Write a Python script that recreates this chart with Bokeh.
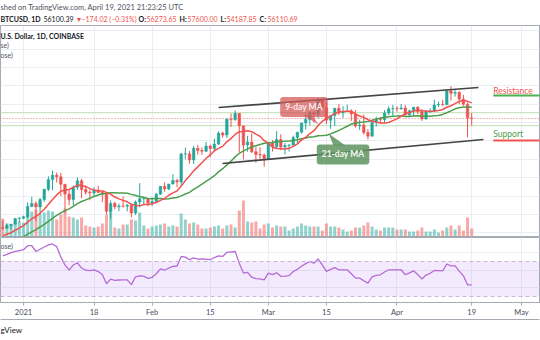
import pandas as pd
from bokeh.plotting import figure
from bokeh.layouts import column
from bokeh.models import ColumnDataSource, Range1d, FixedTicker, Label, Span, BoxAnnotation, DatetimeAxis
from bokeh.embed import file_html
from bokeh.resources import INLINE

# ---------------- data (BTCUSD daily) ----------------
first_day = "2020-12-27"
opens = [26437, 26261, 27030, 27360, 28880, 28990, 29410, 32200, 33000, 32030,
         34050, 36860, 39490, 40670, 40240, 38240, 35550, 34050, 37400, 39150,
         36800, 36050, 35830, 36630, 36000, 35500, 30850, 33000, 32100, 32300,
         32260, 32500, 30400, 33400, 34300, 34320, 33100, 33540, 35500, 37650,
         36950, 38300, 39250, 38850, 46450, 46500, 44850, 48000, 47400, 47200,
         48600, 47950, 49150, 52150, 51600, 55900, 55800, 57500, 54100, 48900,
         49700, 47050, 46300, 46150, 45200, 49600, 48400, 50400, 48350, 48750,
         48850, 50950, 52400, 54900, 55850, 57800, 57250, 61200, 59000, 55650,
         56900, 58900, 57650, 58050, 58100, 57350, 54100, 54350, 52300, 51300,
         55050, 55850, 55800, 57600, 58750, 58800, 58750, 59000, 57100, 58200,
         59150, 57950, 56000, 58100, 58150, 59800, 59900, 59850, 63600, 62950,
         63200, 61400, 60000, 56273.65]
highs = [28400, 27500, 27380, 28990, 29300, 29680, 33300, 34800, 33600, 34500,
         36950, 40370, 41950, 41400, 41350, 38260, 36600, 37850, 40100, 39700,
         37900, 36800, 37400, 37850, 36400, 35600, 33800, 33450, 32950, 34880,
         32900, 32560, 33800, 38500, 34900, 34330, 34700, 35900, 37700, 38700,
         38300, 40950, 39700, 46800, 48200, 47300, 48700, 48950, 48200, 49700,
         49000, 50600, 52600, 52550, 56200, 57500, 58350, 57550, 54200, 51400,
         52050, 48400, 48300, 46600, 49800, 50200, 52650, 51800, 49450, 49200,
         51450, 52400, 54900, 57400, 58100, 58000, 61800, 61700, 60600, 56900,
         58950, 60100, 59450, 59900, 58600, 58400, 55800, 57200, 53200, 55100,
         56600, 56550, 58400, 59400, 59800, 59500, 60050, 59800, 58500, 59300,
         59500, 58650, 58200, 58900, 61250, 60700, 61200, 63800, 64900, 63800,
         63550, 62550, 60450, 57600.00]
lows = [25850, 26100, 25880, 27320, 27850, 28700, 29030, 32000, 28130, 29900,
        33430, 36370, 36600, 38700, 35000, 30400, 32500, 32400, 36700, 34400,
        35400, 33850, 34800, 35900, 33400, 30070, 28850, 31400, 30900, 31900,
        30850, 29240, 29900, 31950, 32850, 32300, 32300, 33450, 35400, 36200,
        36600, 38200, 37400, 37980, 45000, 43800, 43750, 46300, 46200, 47000,
        45600, 47050, 48900, 50900, 50800, 53800, 55500, 46900, 45000, 47100,
        46700, 44100, 45100, 43000, 45000, 47100, 48100, 47500, 46300, 47100,
        48850, 49300, 52000, 53100, 54300, 55000, 56100, 58950, 54600, 53300,
        54100, 57000, 56300, 57850, 55450, 53650, 53000, 51700, 50400, 51300,
        53950, 54700, 54900, 57050, 56850, 57950, 58500, 56950, 56500, 56800,
        57350, 55450, 55750, 57650, 57900, 59250, 59550, 59850, 61000, 62050,
        60000, 59600, 51000, 54187.85]
closes = [26261, 27030, 27360, 28880, 28990, 29410, 32200, 33000, 32030, 34050,
          36860, 39490, 40670, 40240, 38240, 35550, 34050, 37400, 39150, 36800,
          36050, 35830, 36630, 36000, 35500, 30850, 33000, 32100, 32300, 32260,
          32500, 30400, 33400, 34300, 34320, 33100, 33540, 35500, 37650, 36950,
          38300, 39250, 38850, 46450, 46500, 44850, 48000, 47400, 47200, 48600,
          47950, 49150, 52150, 51600, 55900, 55800, 57500, 54100, 48900, 49700,
          47050, 46300, 46150, 45200, 49600, 48400, 50400, 48350, 48750, 48850,
          50950, 52400, 54900, 55850, 57800, 57250, 61200, 59000, 55650, 56900,
          58900, 57650, 58050, 58100, 57350, 54100, 54350, 52300, 51300, 55050,
          55850, 55800, 57600, 58750, 58800, 58750, 59000, 57100, 58200, 59150,
          57950, 56000, 58100, 58150, 59800, 59900, 59850, 63600, 62950, 63200,
          61400, 60000, 56300, 56110.69]
# closes of the 20 sessions before the first visible candle (feed the moving averages)
warmup_closes = [19200, 18320, 18550, 18250, 18040, 18800, 19170, 19270, 19440, 21350,
                 22800, 23140, 23850, 23480, 22750, 23820, 23250, 23720, 24710, 26440]
volumes_k = [36, 26, 24, 28, 30, 28, 44, 50, 54, 44,
             48, 52, 50, 34, 44, 56, 40, 38, 34, 38,
             22, 20, 18, 20, 26, 44, 52, 18, 16, 24,
             24, 34, 32, 48, 22, 16, 20, 22, 24, 26,
             20, 22, 20, 46, 34, 26, 28, 24, 16, 16,
             18, 20, 22, 16, 22, 24, 18, 52, 72, 30,
             28, 30, 16, 24, 26, 18, 22, 20, 20, 12,
             16, 20, 26, 22, 20, 20, 20, 12, 26, 20,
             20, 18, 14, 10, 12, 18, 18, 22, 28, 20,
             14, 12, 18, 18, 18, 14, 14, 14, 10, 10,
             12, 18, 10, 10, 14, 8, 12, 18, 22, 14,
             22, 12, 38, 16]
rsi_values = [76.5, 78, 80, 81.5, 82.5, 83.5, 88, 88, 81.4, 84,
              86.5, 89, 90, 87, 75, 66, 60, 66, 68.5, 62.5,
              60, 59.5, 60.5, 58.5, 55, 44.5, 49.8, 48.5, 48.8, 49,
              49, 43.5, 52.5, 53.5, 53.3, 50.6, 51.9, 56, 61.6, 60,
              62.5, 64.5, 64.8, 75.7, 75, 72, 74, 72.6, 72.8, 72.6,
              72, 74.5, 76.5, 75.7, 80.5, 81, 81.4, 68, 56.7, 57.5,
              52, 50.5, 50, 49, 56.7, 55, 57, 53, 53.3, 53.8,
              58.5, 61, 64.5, 67.5, 70, 68, 73, 66, 58.6, 61,
              63, 60.5, 60.5, 60.5, 56, 51, 51, 48, 45.2, 52.5,
              54, 54.8, 58, 60.5, 60.5, 60.5, 60.5, 54.8, 57, 59.3,
              55, 50, 54.5, 56.5, 59.7, 59.5, 59.3, 67.1, 65, 65,
              59, 53.6, 43.3, 43.3]

tick_dates = ["2021-01-01", "2021-01-18", "2021-02-01", "2021-02-15", "2021-03-01",
              "2021-03-15", "2021-04-01", "2021-04-19", "2021-05-01"]
tick_labels = ["2021", "18", "Feb", "15", "Mar", "15", "Apr", "19", "May"]
price_grid = [25000, 30000, 35000, 40000, 45000, 50000, 55000, 60000, 65000, 70000, 75000, 80000]
rsi_grid = [40, 60, 80]
rsi_band = [30, 70]

zone_levels = [57700, 54150]
last_price = 56110.69
channel_upper_dates = ["2021-02-17 00:00", "2021-04-20 15:00"]
channel_upper_prices = [59100, 64540]
channel_lower_dates = ["2021-02-17 23:00", "2021-04-21 20:00"]
channel_lower_prices = [43870, 50400]
sr_label_date = "2021-04-24 05:00"
sr_line_dates = ["2021-04-24 05:00", "2021-05-12 00:00"]
resistance_text_price, resistance_line_price = 63540, 62370
support_text_price, support_line_price = 51760, 50130
ma9_note = ("9-day MA", "2021-03-09 14:00", 59240)
ma21_note = ("21-day MA", "2021-03-19 00:00", 46320)
ma9_tail_dates = ["2021-03-09 11:00", "2021-03-11 15:00", "2021-03-13 02:00"]
ma9_tail_prices = [56900, 56900, 54500]
ma21_tail_dates = ["2021-03-15 12:00", "2021-03-16 17:00", "2021-03-19 14:00"]
ma21_tail_prices = [52030, 48800, 48800]

header_1 = "shed on TradingView.com, April 19, 2021 21:23:25 UTC"
header_2 = ["BTCUSD, 1D", "56100.39", "\u25bc", "\u2212174.02 (\u22120.31%)", "O:", "56273.65",
            "H:", "57600.00", "L:", "54187.85", "C:", "56110.69"]
legend_lines = ["U.S. Dollar, 1D, COINBASE", "se)", "ose)"]
rsi_legend = "ose)"
footer = "gView"

# ---------------- helpers ----------------
def ms(s):
    return pd.Timestamp(s).value / 1e6

DAY = 86400000.0
UP, DOWN = "#26a69a", "#ef5350"
FONT = "Lato"
GRID = "#e9eef5"
EDGE = "#a7aab3"

dates = pd.date_range(first_day, periods=len(closes), freq="D")
x = [ms(d) for d in dates]
up = [c >= o for o, c in zip(opens, closes)]
allc = pd.Series(warmup_closes + closes, dtype=float)
ma9 = allc.rolling(9).mean().iloc[len(warmup_closes):].to_list()
ma21 = allc.rolling(21).mean().iloc[len(warmup_closes):].to_list()

src = ColumnDataSource(dict(
    x=x, o=opens, h=highs, l=lows, c=closes,
    top=[max(o, c) for o, c in zip(opens, closes)],
    bot=[min(o, c) for o, c in zip(opens, closes)],
    col=[UP if u else DOWN for u in up],
    vol=volumes_k, ma9=ma9, ma21=ma21, rsi=rsi_values))

x0 = ms("2021-01-01") - 5.54 * DAY
xr = Range1d(x0, x0 + 539 / 4.15 * DAY)
ticks = [ms(t) for t in tick_dates]
overrides = {int(t): lab for t, lab in zip(ticks, tick_labels)}


def bare(height):
    f = figure(width=540, height=height, x_range=Range1d(0, 540), y_range=Range1d(0, height),
               output_backend="svg", toolbar_location=None, title=None,
               min_border_left=0, min_border_right=0, min_border_top=0, min_border_bottom=0)
    f.xaxis.visible = False
    f.yaxis.visible = False
    f.grid.visible = False
    f.outline_line_color = None
    return f


def text(fig, px, py_from_bottom, t, color="#131722", style="normal", size="7.5px"):
    fig.add_layout(Label(x=px, y=py_from_bottom, x_units="screen", y_units="screen", text=t,
                         text_color=color, text_font=FONT, text_font_size=size,
                         text_font_style=style, text_baseline="middle", text_align="left"))

# ---------------- header strip ----------------
hdr = bare(25)
text(hdr, 0, 25 - 6.5, header_1, color="#50535e")
h2_x = [0, 43, 75, 81, 138, 146, 179, 187, 220, 226, 259, 267]
h2_col = ["#131722", "#131722", DOWN, DOWN, "#131722", DOWN, "#131722", DOWN, "#131722", DOWN, "#131722", DOWN]
h2_sty = ["bold", "normal", "normal", "normal", "bold", "normal", "bold", "normal", "bold", "normal", "bold", "normal"]
for hx, t, c, s in zip(h2_x, header_2, h2_col, h2_sty):
    text(hdr, hx, 25 - 18, t, color=c, style=s, size="7px")

# ---------------- main price pane ----------------
p = figure(width=540, height=212, x_range=xr, y_range=Range1d(24014, 81406),
           x_axis_type="datetime", output_backend="svg", toolbar_location=None, title=None,
           min_border_left=0, min_border_right=1, min_border_top=0, min_border_bottom=1)
p.xaxis.visible = False
p.yaxis.visible = False
p.xgrid.ticker = FixedTicker(ticks=ticks)
p.ygrid.ticker = FixedTicker(ticks=price_grid)
p.xgrid.grid_line_color = GRID
p.ygrid.grid_line_color = GRID
p.outline_line_color = EDGE

p.extra_y_ranges = {"vol": Range1d(0, 422)}
p.vbar(x="x", top="vol", bottom=0, width=0.72 * DAY, y_range_name="vol", source=src,
       fill_color="col", line_color=None, fill_alpha=0.5)

for lvl in zone_levels:
    p.add_layout(Span(location=lvl, dimension="width", line_color="#c9e4c0", line_width=1.3, level="underlay"))
p.add_layout(Span(location=last_price, dimension="width", line_color=DOWN, line_width=1,
                  line_dash="1 2", line_alpha=0.8, level="underlay"))

p.segment(x0="x", y0="h", x1="x", y1="l", source=src, line_color="col", line_width=1)
p.vbar(x="x", top="top", bottom="bot", width=0.62 * DAY, source=src, fill_color="col", line_color="col", line_width=0.5)

p.line("x", "ma21", source=src, line_color="#4b9e4b", line_width=1.5)
p.line("x", "ma9", source=src, line_color="#f0524f", line_width=1.5)

p.line([ms(d) for d in channel_upper_dates], channel_upper_prices, line_color="#444444", line_width=1.7)
p.line([ms(d) for d in channel_lower_dates], channel_lower_prices, line_color="#444444", line_width=1.7)

p.line([ms(d) for d in sr_line_dates], [resistance_line_price] * 2, line_color="#4caf50", line_width=1.8)
p.line([ms(d) for d in sr_line_dates], [support_line_price] * 2, line_color="#ef5350", line_width=1.8)
p.add_layout(Label(x=ms(sr_label_date), y=resistance_text_price, text="Resistance", text_color="#ef5350",
                   text_font=FONT, text_font_size="8.5px", text_baseline="middle", text_align="left"))
p.add_layout(Label(x=ms(sr_label_date), y=support_text_price, text="Support", text_color="#4a9e4c",
                   text_font=FONT, text_font_size="8.5px", text_baseline="middle", text_align="left"))

p.patch([ms(d) for d in ma9_tail_dates], ma9_tail_prices, fill_color="#d65a5a", fill_alpha=0.75, line_color=None)
p.patch([ms(d) for d in ma21_tail_dates], ma21_tail_prices, fill_color="#5e9460", fill_alpha=0.85, line_color=None)
p.add_layout(Label(x=ms(ma9_note[1]), y=ma9_note[2], text=ma9_note[0], text_color="#fde9e9",
                   text_font=FONT, text_font_size="8.5px", text_font_style="bold",
                   text_align="center", text_baseline="middle",
                   background_fill_color="#d65a5a", background_fill_alpha=0.75,
                   padding=5, border_radius=3))
p.add_layout(Label(x=ms(ma21_note[1]), y=ma21_note[2], text=ma21_note[0], text_color="#eef6ee",
                   text_font=FONT, text_font_size="8.5px", text_font_style="bold",
                   text_align="center", text_baseline="middle",
                   background_fill_color="#5e9460", background_fill_alpha=0.85,
                   padding=5, border_radius=3))

# pane legend (frame bottom is 211 px below its top)
text(p, 0, 211 - 10, legend_lines[0], color="#131722", style="bold", size="7px")
text(p, 0, 211 - 19.5, legend_lines[1], color="#50535e", size="7px")
text(p, 0, 211 - 29, legend_lines[2], color="#50535e", size="7px")

# ---------------- RSI pane ----------------
r = figure(width=540, height=83, x_range=xr, y_range=Range1d(23.1, 97.4),
           x_axis_type="datetime", output_backend="svg", toolbar_location=None, title=None,
           min_border_left=0, min_border_right=1, min_border_top=0, min_border_bottom=18)
r.yaxis.visible = False
r.outline_line_color = EDGE
r.xgrid.ticker = FixedTicker(ticks=ticks)
r.ygrid.ticker = FixedTicker(ticks=rsi_grid)
r.xgrid.grid_line_color = GRID
r.ygrid.grid_line_color = GRID

ax = r.xaxis[0]
ax.ticker = FixedTicker(ticks=ticks)
ax.major_label_overrides = overrides
ax.major_tick_out = 3
ax.major_tick_in = 0
ax.minor_tick_out = 0
ax.minor_tick_in = 0
ax.major_tick_line_color = EDGE
ax.axis_line_color = EDGE
ax.major_label_standoff = 2
ax.major_label_text_font = FONT
ax.major_label_text_font_size = "7.5px"
ax.major_label_text_color = "#4a4d57"

spacer = DatetimeAxis(ticker=FixedTicker(ticks=[]), axis_line_color=None, major_tick_out=3,
                      major_tick_in=0, minor_tick_out=0, minor_tick_in=0, major_label_standoff=0)
edge = DatetimeAxis(ticker=FixedTicker(ticks=[]), axis_line_color=EDGE, major_tick_out=0,
                    major_tick_in=0, minor_tick_out=0, minor_tick_in=0, major_label_standoff=0)
r.add_layout(spacer, "below")
r.add_layout(edge, "below")

r.add_layout(BoxAnnotation(bottom=rsi_band[0], top=rsi_band[1], fill_color="#9d5cf0",
                           fill_alpha=0.12, line_color=None, level="underlay"))
for b in rsi_band:
    r.add_layout(Span(location=b, dimension="width", line_color="#c6b3d6", line_width=1, line_dash="4 3"))
r.line("x", "rsi", source=src, line_color="#b56ad6", line_width=1.3)
text(r, 0, 65 - 8, rsi_legend, color="#50535e", size="7px")

# ---------------- footer strip ----------------
ftr = bare(20)
text(ftr, 0, 20 - 9, footer, color="#131722", size="8px")

layout = column(hdr, p, r, ftr)
open("out.html", "w").write(file_html(layout, INLINE))
